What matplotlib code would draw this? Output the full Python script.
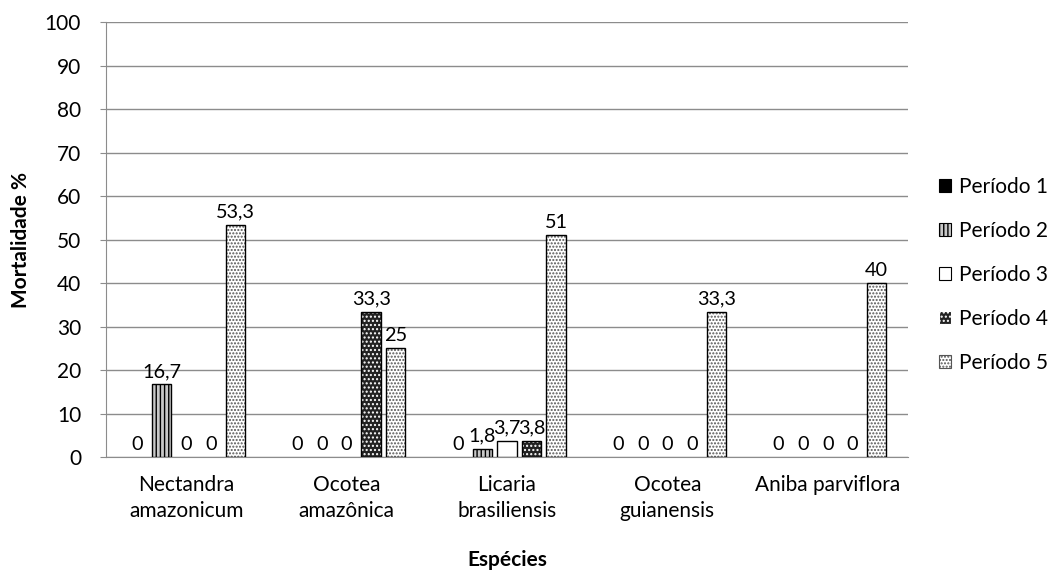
import numpy as np
import matplotlib.pyplot as plt
from matplotlib.patches import Patch

plt.rcParams['font.family'] = ['Lato', 'DejaVu Sans']
plt.rcParams['hatch.linewidth'] = 1.0

especies = ['Nectandra\namazonicum', 'Ocotea\namazônica', 'Licaria\nbrasiliensis',
            'Ocotea\nguianensis', 'Aniba parviflora']
periodos = ['Período 1', 'Período 2', 'Período 3', 'Período 4', 'Período 5']

# mortalidade (%) por período, uma lista por espécie
p1 = [0, 0, 0, 0, 0]
p2 = [16.7, 0, 1.8, 0, 0]
p3 = [0, 0, 3.7, 0, 0]
p4 = [0, 33.3, 3.8, 0, 0]
p5 = [53.3, 25, 51, 33.3, 40]
series = [p1, p2, p3, p4, p5]

# (face, hatch colour, hatch)
estilos = [
    ('black', 'black', None),
    ('#c8c8c8', 'black', '||||'),
    ('white', 'white', None),
    ('#222222', 'white', '....'),
    ('white', '#555555', '.....'),
]

fs = 15

fig = plt.figure(figsize=(10.55, 5.8), dpi=100)
ax = fig.add_axes([0.1005, 0.212, 0.76, 0.75])

x = np.arange(len(especies))
w = 0.12
step = 0.153

for i, (vals, (fc, hc, h)) in enumerate(zip(series, estilos)):
    pos = x + (i - 2) * step
    ax.bar(pos, vals, w, color=fc, edgecolor=hc, hatch=h, linewidth=0, zorder=3)
    for xp, v in zip(pos, vals):
        if v > 0:
            ax.bar(xp, v, w, fill=False, edgecolor='black', linewidth=1.0, zorder=4)
        lab = ('%g' % v).replace('.', ',')
        ax.text(xp, v + 1.0, lab, ha='center', va='bottom', fontsize=14.3, zorder=5)

ax.set_xlim(-0.5, len(especies) - 0.5)
ax.set_ylim(0, 100)
ax.set_yticks(range(0, 101, 10))
ax.yaxis.grid(True, color='#8c8c8c', linewidth=1)
ax.set_axisbelow(True)
for s in ['top', 'right']:
    ax.spines[s].set_visible(False)
ax.spines['left'].set_color('#8c8c8c')
ax.spines['bottom'].set_color('#8c8c8c')
ax.tick_params(axis='y', length=4, color='#8c8c8c', labelsize=fs, pad=14)
ax.tick_params(axis='x', length=0, labelsize=fs, pad=13)
ax.set_xticks(x)
ax.set_xticklabels(especies, linespacing=1.35)

ax.set_ylabel('Mortalidade %', fontsize=fs, fontweight='bold', labelpad=10)
ax.set_xlabel('Espécies', fontsize=fs, fontweight='bold', labelpad=21)

handles = []
for nome, (fc, hc, h) in zip(periodos, estilos):
    handles.append(Patch(facecolor=fc, edgecolor='black' if h is None else hc,
                         hatch=h, label=nome, linewidth=0.8))
fig.legend(handles=handles, loc='center left', bbox_to_anchor=(0.872, 0.526),
           frameon=False, fontsize=fs, handlelength=0.6, handleheight=0.6,
           handletextpad=0.35, labelspacing=1.15)

fig.savefig('out.png', dpi=100)
